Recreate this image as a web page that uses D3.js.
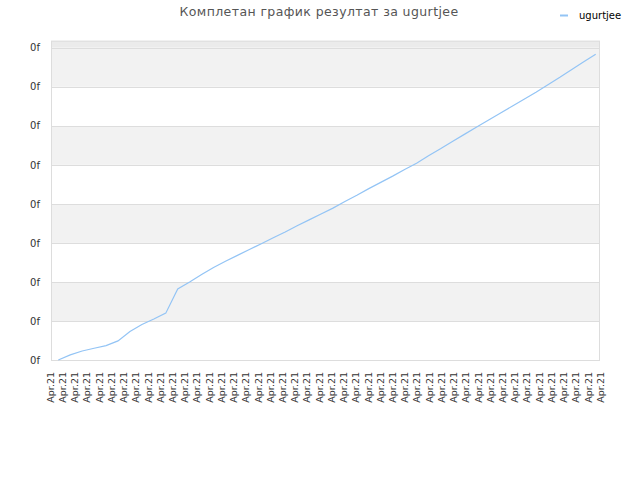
<!DOCTYPE html>
<html>
<head>
<meta charset="utf-8">
<script src="https://cdn.jsdelivr.net/npm/d3@7"></script>
<style>
  html, body { margin: 0; padding: 0; background: #fff; }
  svg { display: block; font-family: "DejaVu Sans", sans-serif; }
</style>
</head>
<body>
<svg id="chart" width="640" height="480"></svg>
<script>
// ---- data ----
const title = "Комплетан график резултат за ugurtjee";
const seriesName = "ugurtjee";
const categories = [
  "Apr.21","Apr.21","Apr.21","Apr.21","Apr.21","Apr.21","Apr.21","Apr.21","Apr.21","Apr.21",
  "Apr.21","Apr.21","Apr.21","Apr.21","Apr.21","Apr.21","Apr.21","Apr.21","Apr.21","Apr.21",
  "Apr.21","Apr.21","Apr.21","Apr.21","Apr.21","Apr.21","Apr.21","Apr.21","Apr.21","Apr.21",
  "Apr.21","Apr.21","Apr.21","Apr.21","Apr.21","Apr.21","Apr.21","Apr.21","Apr.21","Apr.21",
  "Apr.21","Apr.21","Apr.21","Apr.21","Apr.21","Apr.21"
];
const values = [
  0.00, 0.13, 0.23, 0.30, 0.37, 0.49, 0.73, 0.91, 1.05, 1.20,
  1.82, 2.00, 2.19, 2.37, 2.53, 2.68, 2.83, 2.98, 3.13, 3.28,
  3.44, 3.59, 3.74, 3.89, 4.06, 4.22, 4.39, 4.55, 4.71, 4.88,
  5.04, 5.23, 5.41, 5.60, 5.78, 5.96, 6.14, 6.32, 6.50, 6.68,
  6.86, 7.05, 7.24, 7.44, 7.64, 7.83
];
const yTicks = [0, 1, 2, 3, 4, 5, 6, 7, 8];
const yTickLabels = ["0f", "0f", "0f", "0f", "0f", "0f", "0f", "0f", "0f"];

// ---- layout ----
const plot = { left: 51, right: 600, top: 40.7, bottom: 360 };
const svg = d3.select("#chart");
const idx = d3.range(categories.length);

const y = d3.scaleLinear().domain([0, 8]).range([plot.bottom, 47.7]);
const xLine = d3.scalePoint().domain(idx).range([58.3, 595.7]);
const xLab = d3.scalePoint().domain(idx).range([50, 600]);

// top strip
svg.append("rect")
  .attr("x", plot.left).attr("y", plot.top)
  .attr("width", plot.right - plot.left).attr("height", y(8) - plot.top)
  .attr("fill", "#ebebeb");

// alternating bands
svg.append("g").selectAll("rect")
  .data(yTicks.slice(0, -1))
  .join("rect")
  .attr("x", plot.left)
  .attr("y", d => y(d + 1))
  .attr("width", plot.right - plot.left)
  .attr("height", d => y(d) - y(d + 1))
  .attr("fill", d => d % 2 === 1 ? "#f2f2f2" : "#ffffff");

// gridlines
svg.append("g").selectAll("line")
  .data(yTicks.slice(1))
  .join("line")
  .attr("x1", plot.left).attr("x2", plot.right)
  .attr("y1", d => Math.round(y(d)) + 0.5).attr("y2", d => Math.round(y(d)) + 0.5)
  .attr("stroke", "#dddddd").attr("stroke-width", 1);

// border
svg.append("rect")
  .attr("x", plot.left + 0.5).attr("y", plot.top + 0.5)
  .attr("width", plot.right - plot.left - 1).attr("height", plot.bottom - plot.top)
  .attr("fill", "none").attr("stroke", "#dddddd");

// y axis
const yAxis = d3.axisLeft(y).tickValues(yTicks)
  .tickFormat((d, i) => yTickLabels[i]).tickSize(0).tickPadding(0);
svg.append("g")
  .attr("transform", `translate(40,0)`)
  .call(yAxis)
  .call(g => g.select(".domain").remove())
  .call(g => g.selectAll("text")
    .attr("font-family", "DejaVu Sans").attr("font-size", 10).attr("fill", "#333"));

// x axis
const xAxis = d3.axisBottom(xLab).tickFormat(i => categories[i]).tickSize(0).tickPadding(0);
svg.append("g")
  .attr("transform", `translate(0,${plot.bottom})`)
  .call(xAxis)
  .call(g => g.select(".domain").remove())
  .call(g => g.selectAll("text")
    .attr("font-family", "DejaVu Sans").attr("font-size", 9.5).attr("fill", "#333")
    .attr("text-anchor", "end")
    .attr("transform", "translate(0,12) rotate(-90)")
    .attr("x", 0).attr("y", 0).attr("dy", "0.35em"));

// line
const line = d3.line().x((d, i) => xLine(i)).y(d => y(d));
svg.append("path")
  .datum(values)
  .attr("d", line)
  .attr("fill", "none")
  .attr("stroke", "#93c4f5")
  .attr("stroke-width", 1.2);

// title
svg.append("text")
  .attr("x", 319).attr("y", 16)
  .attr("text-anchor", "middle")
  .attr("font-family", "DejaVu Sans").attr("font-size", 12.5)
  .attr("fill", "#555").attr("letter-spacing", 0.4)
  .text(title);

// legend
svg.append("line")
  .attr("x1", 560).attr("x2", 568).attr("y1", 15.5).attr("y2", 15.5)
  .attr("stroke", "#93c4f5").attr("stroke-width", 2);
svg.append("text")
  .attr("x", 579).attr("y", 15).attr("dy", "0.35em")
  .attr("font-family", "DejaVu Sans").attr("font-size", 10)
  .attr("fill", "#000")
  .text(seriesName);
</script>
</body>
</html>
